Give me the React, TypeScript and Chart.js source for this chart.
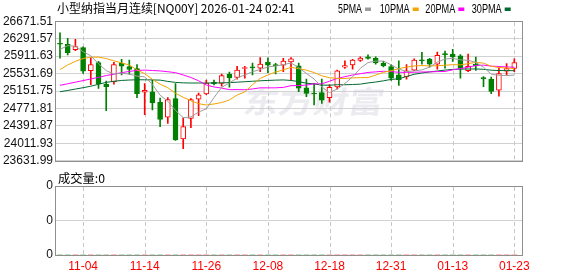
import React, { useEffect, useRef } from "react";
import { Chart, registerables } from "chart.js";

Chart.register(...registerables);

// ---------- data ----------
const dates = [
  "10-30", "10-31", "11-03", "11-04", "11-05", "11-06", "11-07", "11-10", "11-11", "11-12",
  "11-13", "11-14", "11-17", "11-18", "11-19", "11-20", "11-21", "11-24", "11-25", "11-26",
  "11-27", "11-28", "12-01", "12-02", "12-03", "12-04", "12-05", "12-08", "12-09", "12-10",
  "12-11", "12-12", "12-15", "12-16", "12-17", "12-18", "12-19", "12-22", "12-23", "12-24",
  "12-26", "12-29", "12-30", "12-31", "01-02", "01-05", "01-06", "01-07", "01-08", "01-09",
  "01-12", "01-13", "01-14", "01-15", "01-16", "01-19", "01-20", "01-21", "01-22", "01-23",
];

const opens = [
  26192, 26171, 26052, 26101, 25594, 25770, 25299, 25355, 25756, 25686,
  25644, 25130, 25137, 24905, 24581, 24989, 24110, 24553, 24975, 25088,
  25341, 25320, 25524, 25447, 25644, 25679, 25651, 25777, 25728, 25714,
  25784, 25700, 25221, 25109, 25116, 25010, 25242, 25672, 25721, 25819,
  25897, 25869, 25756, 25686, 25503, 25461, 25608, 25833, 25847, 25735,
  25967, 25960, 25918, 25594, 25735, 25447, 25411, 25172, 25587, 25644,
];
const closes = [
  26171, 25988, 26122, 25587, 25728, 25306, 25249, 25728, 25693, 25622,
  25095, 25165, 24891, 24532, 24968, 24089, 24377, 24968, 25067, 25327,
  25313, 25489, 25439, 25608, 25665, 25658, 25742, 25714, 25707, 25805,
  25855, 25214, 25102, 25088, 24954, 25235, 25594, 25707, 25826, 25869,
  25862, 25763, 25700, 25432, 25397, 25594, 25826, 25812, 25735, 25932,
  25946, 25897, 25644, 25693, 25700, 25418, 25144, 25531, 25644, 25770,
];
const highs = [
  26418, 26298, 26277, 26115, 25876, 25798, 25369, 25777, 25841, 25826,
  25728, 25313, 25397, 24996, 25010, 25313, 24567, 24989, 25109, 25390,
  25390, 25524, 25566, 25693, 25693, 25763, 25883, 25876, 25756, 25862,
  25883, 25763, 25411, 25320, 25411, 25292, 25608, 25812, 25841, 25897,
  25939, 25897, 25798, 25728, 25812, 25728, 25855, 25995, 25862, 26002,
  26023, 26059, 25946, 25960, 25890, 25468, 25454, 25658, 25749, 25855,
];
const lows = [
  25869, 25939, 26030, 25538, 25292, 25207, 24722, 25299, 25503, 25517,
  25010, 24637, 24743, 24377, 24447, 24075, 23899, 24356, 24616, 25074,
  25285, 25257, 25235, 25411, 25432, 25503, 25573, 25552, 25524, 25573,
  25390, 25137, 25031, 24849, 24884, 24912, 25200, 25644, 25630, 25798,
  25847, 25735, 25679, 25383, 25277, 25411, 25594, 25735, 25672, 25630,
  25651, 25798, 25432, 25573, 25601, 25249, 25095, 25038, 25503, 25573,
];

const ma5 = [
  26060, 26140, 26130, 26010, 25919, 25746, 25598, 25520, 25541, 25520,
  25477, 25461, 25293, 25061, 24930, 24729, 24571, 24587, 24694, 24766,
  25010, 25233, 25327, 25435, 25503, 25572, 25622, 25677, 25697, 25725,
  25765, 25659, 25537, 25413, 25243, 25119, 25195, 25316, 25463, 25646,
  25772, 25805, 25804, 25725, 25631, 25577, 25590, 25612, 25673, 25780,
  25850, 25864, 25831, 25822, 25776, 25670, 25520, 25497, 25487, 25501,
];
const ma10 = [
  25620, 25720, 25800, 25860, 25890, 25890, 25860, 25810, 25765, 25719,
  25612, 25530, 25406, 25301, 25225, 25103, 25016, 24940, 24877, 24848,
  24870, 24902, 24957, 25065, 25134, 25291, 25428, 25502, 25566, 25614,
  25668, 25641, 25607, 25555, 25484, 25442, 25427, 25426, 25438, 25444,
  25445, 25500, 25560, 25594, 25639, 25674, 25698, 25708, 25699, 25705,
  25714, 25727, 25722, 25748, 25778, 25760, 25692, 25664, 25655, 25639,
];
const ma20 = [
  25278, 25310, 25345, 25380, 25415, 25450, 25489, 25520, 25552, 25580,
  25601, 25608, 25600, 25590, 25573, 25552, 25503, 25447, 25376, 25284,
  25241, 25216, 25182, 25183, 25180, 25197, 25222, 25221, 25222, 25231,
  25269, 25271, 25282, 25310, 25309, 25366, 25427, 25464, 25502, 25529,
  25557, 25570, 25583, 25575, 25561, 25558, 25562, 25567, 25569, 25575,
  25579, 25614, 25641, 25671, 25708, 25717, 25695, 25686, 25677, 25672,
];
const ma30 = [
  25137, 25165, 25195, 25225, 25257, 25300, 25341, 25365, 25383, 25392,
  25397, 25397, 25394, 25390, 25362, 25340, 25330, 25327, 25327, 25327,
  25327, 25330, 25335, 25345, 25355, 25365, 25375, 25383, 25390, 25394,
  25383, 25357, 25323, 25307, 25281, 25279, 25290, 25289, 25294, 25302,
  25328, 25348, 25375, 25405, 25419, 25469, 25517, 25545, 25568, 25588,
  25609, 25623, 25629, 25632, 25633, 25625, 25606, 25599, 25597, 25596,
];

const volumes = [
  0, 0, 0, 0, 0, 0, 0, 0, 0, 0,
  0, 0, 0, 0, 0, 0, 0, 0, 0, 0,
  0, 0, 0, 0, 0, 0, 0, 0, 0, 0,
  0, 0, 0, 0, 0, 0, 0, 0, 0, 0,
  0, 0, 0, 0, 0, 0, 0, 0, 0, 0,
  0, 0, 0, 0, 0, 0, 0, 0, 0, 0,
];

const priceTicks = [
  23631.99, 24011.93, 24391.87, 24771.81, 25151.75, 25531.69, 25911.63, 26291.57, 26671.51,
];
const volumeTickLabels = ["0", "0", "0", "0", "0"];
const tickDates = ["11-04", "11-14", "11-26", "12-08", "12-18", "12-31", "01-13", "01-23"];
const maNames = ["5PMA", "10PMA", "20PMA", "30PMA"];
const titleText = "小型纳指当月连续[NQ00Y] 2026-01-24 02:41";
const volumeTitle = "成交量:0";
const watermark = "东方财富";

// ---------- styles ----------
const UP = "#ff0000";
const DOWN = "#008000";
const maColors = ["#9c9c9c", "#f5a300", "#ff00ff", "#006a30"];
const GRID = "#d2d2d2";
const VGRID = "#c8c8c8";
const FRAME = "#8e8e8e";
const X_MIN = -0.65;
const X_MAX = 60.09;
const PAD_L = 55;
const PAD_R = 55.3;

const tickIdx = tickDates.map((d) => dates.indexOf(d));

function fitText(ctx: CanvasRenderingContext2D, text: string, x: number, y: number, w: number, font: string, color: string) {
  ctx.save();
  ctx.font = font;
  ctx.fillStyle = color;
  ctx.textAlign = "left";
  ctx.textBaseline = "alphabetic";
  const m = ctx.measureText(text).width;
  ctx.translate(x, y);
  ctx.scale(w / m, 1);
  ctx.fillText(text, 0, 0);
  ctx.restore();
}

const frameRect = (chart: any) => {
  const a = chart.chartArea;
  const ctx = chart.ctx;
  ctx.save();
  ctx.strokeStyle = FRAME;
  ctx.lineWidth = 1;
  ctx.strokeRect(Math.round(a.left) + 0.5, Math.round(a.top) + 0.5, Math.round(a.right - a.left) - 1, Math.round(a.bottom - a.top));
  ctx.restore();
};

// dashed vertical grid lines at the x scale's ticks
const dashedGrid = (chart: any) => {
  const a = chart.chartArea;
  const ctx = chart.ctx;
  const xs = chart.scales.x;
  ctx.save();
  ctx.strokeStyle = VGRID;
  ctx.lineWidth = 1;
  ctx.setLineDash([4, 3]);
  xs.ticks.forEach((t: any) => {
    const px = Math.round(xs.getPixelForValue(t.value)) + 0.5;
    ctx.beginPath();
    ctx.moveTo(px, a.top + 1);
    ctx.lineTo(px, a.bottom);
    ctx.stroke();
  });
  ctx.restore();
};

const mainDecor = {
  id: "mainDecor",
  beforeDatasetsDraw(chart: any) {
    const ctx = chart.ctx;
    dashedGrid(chart);
    ctx.save();
    ctx.translate(242, 113);
    ctx.transform(1, 0, -0.18, 1, 0, 0);
    fitText(ctx, watermark, 0, 0, 140, "bold 30px 'Noto Sans CJK SC'", "rgba(205,205,215,0.38)");
    ctx.restore();
  },
  afterDraw(chart: any) {
    const ctx = chart.ctx;
    frameRect(chart);
    fitText(ctx, titleText, 57, 13, 238, "12px 'Noto Sans CJK SC'", "#000");
    const xs = [338, 379.7, 425.3, 471.7];
    const ws = [24, 30, 30, 30];
    maNames.forEach((n, i) => {
      fitText(ctx, n, xs[i], 13.3, ws[i], "12px 'Liberation Sans'", "#000");
      ctx.fillStyle = maColors[i];
      ctx.fillRect(xs[i] + ws[i] + 3, 7.5, 6, 3.5);
    });
  },
};

const volDecor = {
  id: "volDecor",
  beforeDatasetsDraw(chart: any) {
    dashedGrid(chart);
  },
  afterDraw(chart: any) {
    frameRect(chart);
    fitText(chart.ctx, volumeTitle, 58, 12.7, 47, "12px 'Noto Sans CJK SC'", "#000");
  },
};

const xBase = (showLabels: boolean, h: number) => ({
  type: "linear" as const,
  min: X_MIN,
  max: X_MAX,
  offset: false,
  afterBuildTicks: (s: any) => {
    s.ticks = tickIdx.map((v) => ({ value: v }));
  },
  afterFit: (s: any) => {
    s.height = h;
  },
  ticks: {
    display: showLabels,
    autoSkip: false,
    maxRotation: 0,
    padding: 4,
    color: "#ff0000",
    font: { family: "'Liberation Sans', Arial, sans-serif", size: 12 },
    callback: (v: any) => dates[Number(v)],
  },
  grid: { display: false, drawTicks: false, offset: false },
  border: { display: false },
});

export default function App() {
  const mainRef = useRef<HTMLCanvasElement>(null);
  const volRef = useRef<HTMLCanvasElement>(null);

  useEffect(() => {
    const isUp = closes.map((c, i) => c >= opens[i]);
    const candleColor = isUp.map((u) => (u ? UP : DOWN));
    const bodyFill = isUp.map((u) => (u ? "#ffffff" : DOWN));

    const maSets = [ma5, ma10, ma20, ma30].map((arr, k) => ({
      type: "line" as const,
      label: maNames[k],
      data: arr.map((y, i) => ({ x: i, y })),
      borderColor: maColors[k],
      borderWidth: 1,
      pointRadius: 0,
      tension: 0,
      fill: false,
      order: 0,
    }));

    const main = new Chart(mainRef.current as HTMLCanvasElement, {
      type: "bar",
      data: {
        datasets: [
          ...maSets,
          {
            type: "bar",
            label: "body",
            data: opens.map((o, i) => ({ x: i, y: [o, closes[i]] })) as any,
            backgroundColor: bodyFill,
            borderColor: candleColor,
            borderWidth: 1,
            borderSkipped: false,
            barThickness: 5,
            grouped: false,
            minBarLength: 1,
            order: 1,
          } as any,
          {
            type: "bar",
            label: "wick",
            data: lows.map((l, i) => ({ x: i, y: [l, highs[i]] })) as any,
            backgroundColor: candleColor,
            borderWidth: 0,
            barThickness: 1,
            grouped: false,
            order: 2,
          } as any,
        ],
      },
      options: {
        responsive: false,
        animation: false,
        devicePixelRatio: 1,
        layout: { padding: { left: 0, right: PAD_R, top: 21.3, bottom: 0 } },
        plugins: { legend: { display: false }, tooltip: { enabled: false }, title: { display: false } },
        scales: {
          x: xBase(false, 4.7) as any,
          y: {
            type: "linear",
            min: priceTicks[0],
            max: priceTicks[priceTicks.length - 1],
            afterBuildTicks: (s: any) => {
              s.ticks = priceTicks.map((v) => ({ value: v }));
            },
            afterFit: (s: any) => {
              s.width = PAD_L;
            },
            ticks: {
              padding: 2,
              color: "#111",
              font: { family: "'Liberation Sans', Arial, sans-serif", size: 12 },
              callback: (v: any) => Number(v).toFixed(2),
            },
            grid: { color: GRID, lineWidth: 1, drawTicks: false },
            border: { display: false },
          },
        },
      },
      plugins: [mainDecor],
    });

    const vol = new Chart(volRef.current as HTMLCanvasElement, {
      type: "bar",
      data: {
        datasets: [
          {
            label: "volume",
            data: volumes.map((v, i) => ({ x: i, y: v })) as any,
            backgroundColor: candleColor,
            barThickness: 5,
          } as any,
        ],
      },
      options: {
        responsive: false,
        animation: false,
        devicePixelRatio: 1,
        layout: { padding: { left: 0, right: PAD_R, top: 16, bottom: 0 } },
        plugins: { legend: { display: false }, tooltip: { enabled: false } },
        scales: {
          x: xBase(true, 21) as any,
          y: {
            type: "linear",
            min: 0,
            max: volumeTickLabels.length - 1,
            afterBuildTicks: (s: any) => {
              s.ticks = volumeTickLabels.map((_, i) => ({ value: i }));
            },
            afterFit: (s: any) => {
              s.width = PAD_L;
            },
            ticks: {
              padding: 2,
              color: "#111",
              font: { family: "'Liberation Sans', Arial, sans-serif", size: 12 },
              callback: (_v: any, i: number) => volumeTickLabels[i],
            },
            grid: { color: GRID, lineWidth: 1, drawTicks: false },
            border: { display: false },
          },
        },
      },
      plugins: [volDecor],
    });

    return () => {
      main.destroy();
      vol.destroy();
    };
  }, []);

  return (
    <div style={{ position: "fixed", left: 0, top: 0, width: 578, height: 276, background: "#ffffff" }}>
      <canvas ref={mainRef} width={578} height={170} style={{ position: "absolute", left: 0, top: 0, display: "block" }} />
      <canvas ref={volRef} width={578} height={106} style={{ position: "absolute", left: 0, top: 170, display: "block" }} />
    </div>
  );
}
